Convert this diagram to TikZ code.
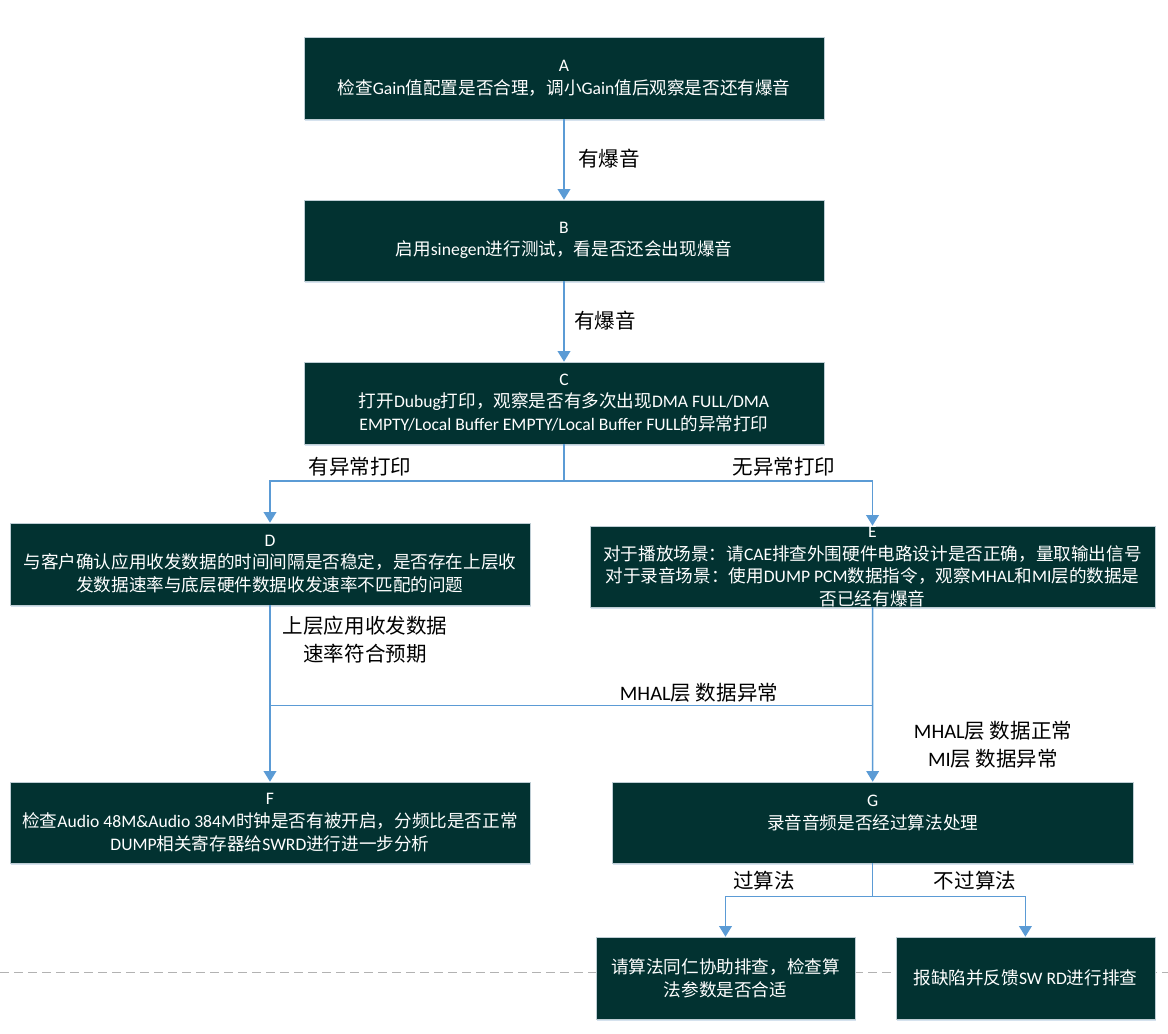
\documentclass[tikz,border=0pt]{standalone}
\usepackage{fontspec}
\setmainfont{Carlito}
\newfontfamily\cjkfont{Noto Sans CJK SC}
\usetikzlibrary{arrows.meta,shadows,positioning}

% Latin in Carlito, Chinese in Noto Sans CJK SC
\XeTeXinterchartokenstate=1
\newXeTeXintercharclass\cjkclass
\newcount\cjkcode
\newcommand\setcjkrange[2]{%
  \cjkcode=#1
  \loop
    \XeTeXcharclass\cjkcode=\cjkclass
    \ifnum\cjkcode<#2 \advance\cjkcode by 1
  \repeat}
\setcjkrange{"3000}{"303F}
\setcjkrange{"4E00}{"9FFF}
\setcjkrange{"FF00}{"FFEF}
\XeTeXinterchartoks 0 \cjkclass = {\cjkfont}
\XeTeXinterchartoks 4095 \cjkclass = {\cjkfont}
\XeTeXinterchartoks \cjkclass 0 = {\rmfamily}
\XeTeXinterchartoks 4095 0 = {\rmfamily}

\definecolor{boxfill}{RGB}{2,50,49}
\definecolor{boxline}{RGB}{190,205,212}
\definecolor{shade}{RGB}{214,226,238}
\definecolor{flow}{RGB}{91,155,213}

\begin{document}
\begin{tikzpicture}[x=0.75pt, y=-0.75pt]

      \tikzset{box/.style={draw=boxline, fill=boxfill, text=white, inner sep=0pt, align=center,
                 font=\fontsize{13.2}{17}\selectfont,
                 drop shadow={shadow xshift=0.8pt, shadow yshift=-1.6pt, fill=shade, opacity=1}},
               txt/.style={text=white, inner sep=0pt, align=center, font=\fontsize{13.2}{17}\selectfont},
               lab/.style={inner sep=0pt, align=center, font=\fontsize{15.4}{21}\selectfont},
               wire/.style={draw=flow, line width=1.1pt},
               arr/.style={wire, -{Triangle[width=9.5pt,length=8pt]}}}

      \useasboundingbox (0,0) rectangle (1168,1034);
      \draw[gray!60, line width=0.75pt, dash pattern=on 6.5pt off 4pt] (0,972.3) -- (1168,972.3);

%% Boxes
      \node[box, minimum width=390pt, minimum height=61.5pt] (b1) at (564,78)
          {A\\检查Gain值配置是否合理，调小Gain值后观察是否还有爆音};
      \node[box, minimum width=390pt, minimum height=60.75pt] (b2) at (564,240.5)
          {B\\启用sinegen进行测试，看是否还会出现爆音};
      \node[box, minimum width=390pt, minimum height=61.5pt] (b3) at (564,403)
          {C\\打开Dubug打印，观察是否有多次出现DMA FULL/DMA\\EMPTY/Local Buffer EMPTY/Local Buffer FULL的异常打印};
      \node[box, minimum width=390pt, minimum height=61.5pt] (b4) at (270,564)
          {D\\与客户确认应用收发数据的时间间隔是否稳定，是否存在上层收\\发数据速率与底层硬件数据收发速率不匹配的问题};
      \node[box, minimum width=423.75pt, minimum height=60.75pt] (b5) at (872.5,566.5) {};
      \node[txt] (t5) at (b5)
          {E\\对于播放场景：请CAE排查外围硬件电路设计是否正确，量取输出信号\\对于录音场景：使用DUMP PCM数据指令，观察MHAL和MI层的数据是\\否已经有爆音};
      \node[box, minimum width=390pt, minimum height=60.75pt] (b6) at (270,822.5)
          {F\\检查Audio 48M\&Audio 384M时钟是否有被开启，分频比是否正常\\DUMP相关寄存器给SWRD进行进一步分析};
      \node[box, minimum width=390.75pt, minimum height=60.75pt] (b7) at (872.7,822.5) {};
      \node[txt, yshift=7.1pt] (t7) at (b7) {G\\录音音频是否经过算法处理};
      \node[box, minimum width=194.25pt, minimum height=61.5pt] (b8) at (725.5,978)
          {请算法同仁协助排查，检查算\\法参数是否合适};
      \node[box, minimum width=194.25pt, minimum height=61.5pt] (b9) at (1025.4,978)
          {报缺陷并反馈SW RD进行排查};

%% Labels
      \node[lab] (l1) at (609,158.5) {有爆音};
      \node[lab] (l2) at (605,320.7) {有爆音};
      \node[lab] (l3) at (360,466.7) {有异常打印};
      \node[lab] (l4) at (784,466.7) {无异常打印};
      \node[lab] (l5) at (365,639.5) {上层应用收发数据\\速率符合预期};
      \node[lab] (l6) at (699,692.7) {MHAL层 数据异常};
      \node[lab] (l7) at (993,744.5) {MHAL层 数据正常\\MI层 数据异常};
      \node[lab] (l8) at (764,881) {过算法};
      \node[lab] (l9) at (975,881) {不过算法};

      \coordinate (j1) at (564,481);
      \coordinate (j2) at (872.7,705.5);
      \coordinate (j3) at (872.7,896.7);

%Edges
      \draw[arr] (b1) -- (b2);
      \draw[arr] (b2) -- (b3);
      \draw[wire] (b3) -- (j1);
      \draw[arr] (j1) -| (b4);
      \draw[arr] (j1) -| (b5);
      \draw[arr] (b4) -- (b6);
      \draw[wire] (j2) -- (j2 -| b6);
      \draw[arr] (b5) -- (b7);
      \draw[wire] (b7) -- (j3);
      \draw[arr] (j3) -| (b8);
      \draw[arr] (j3) -| (b9);
\end{tikzpicture}
\end{document}
